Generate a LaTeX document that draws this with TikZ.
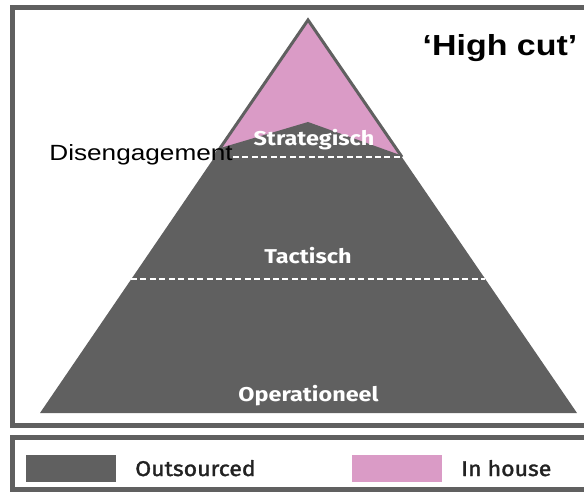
\documentclass[tikz,border=0pt]{standalone}
\usepackage{graphicx}
\usepackage{fontspec}
\setmainfont{Liberation Sans}
\newfontfamily\levelfont{Fira Sans}
\newfontfamily\legendfont[FakeBold=1.6]{Fira Sans}
\newcommand{\wider}[1]{\scalebox{1.17}[1]{#1}}

\begin{document}
\begin{tikzpicture}[x=0.75pt,y=0.75pt,yscale=-1,xscale=1,
	outsrc/.style={fill={rgb, 255:red, 96; green, 96; blue, 96 }},
	inhouse/.style={fill={rgb, 255:red, 218; green, 155; blue, 198 }},
	frameline/.style={draw={rgb, 255:red, 96; green, 96; blue, 96 }, line width=3.75},
	cutline/.style={draw=white, line width=1.1, dash pattern={on 4.5pt off 2.6pt}},
	levellabel/.style={anchor=base, inner sep=0pt, text=white, font=\levelfont\bfseries\fontsize{15}{18}\selectfont},
	swatch/.style={minimum width=67.5pt, minimum height=20.25pt, inner sep=0pt},
	legendtext/.style={anchor=base west, inner sep=0pt, text={rgb, 255:red, 34; green, 34; blue, 34 }, font=\legendfont\fontsize{16}{19}\selectfont}]
	\useasboundingbox (0,0) rectangle (584,498);
	\clip (0,0) rectangle (584,498);
	% frames
	\draw [frameline]  (12,8) rectangle (610,425) ;
	\draw [frameline]  (12,437) rectangle (610,489) ;
	% pyramid
	\fill [outsrc]  (308,20) -- (577,413) -- (40,413) -- cycle ;
	\fill [inhouse]  (308,20) -- (402,157) -- (214,157) -- cycle ;
	\fill [outsrc]  (220.4,148) -- (308,122) -- (400,155) -- (402,157) -- (214,157) -- cycle ;
	\draw [draw={rgb, 255:red, 96; green, 96; blue, 96 }, line width=2.25]  (214,157) -- (308,20) -- (402,157) ;
	\coordinate (cutR) at (402,157) ;
	\coordinate (tacL) at (131,279) ;
	\coordinate (tacR) at (485,279) ;
	% labels
	\draw (233,161) node (diseng) [anchor=base east][inner sep=0pt] {\fontsize{16.5}{19}\selectfont\scalebox{1.19}[1]{Disengagement}};
	\draw [cutline]  (diseng.east |- cutR) -- (cutR) ;
	\draw [cutline]  (tacL) -- (tacR) ;
	\draw (500,56) node (highcut) [anchor=base][inner sep=0pt] {\bfseries\fontsize{21.75}{26}\selectfont\wider{‘High cut’}};
	\draw (314,146) node (strat) [levellabel] {\wider{Strategisch}};
	\draw (308,264) node (tact) [levellabel] {\wider{Tactisch}};
	\draw (308.5,401) node (oper) [levellabel] {\wider{Operationeel}};
	% legend
	\node (outbox) [swatch, outsrc] at (71,468.5) {};
	\node (inbox) [swatch, inhouse] at (397,468.5) {};
	\draw (135,476) node (outtxt) [legendtext] {\scalebox{1.08}[1]{Outsourced}};
	\draw (461,476) node (intxt) [legendtext] {\scalebox{1.08}[1]{In house}};
\end{tikzpicture}
\end{document}
